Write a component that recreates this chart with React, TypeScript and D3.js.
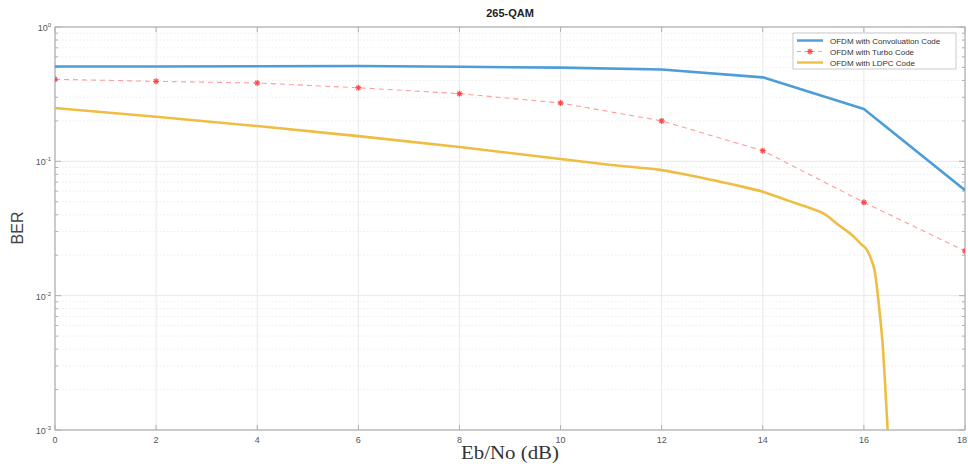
import React from "react";
import * as d3 from "d3";

// Eb/No sample points (dB)
const ebNo = [0, 2, 4, 6, 8, 10, 12, 14, 16, 18];
// OFDM with convolution code
const berConv = [0.508, 0.508, 0.51, 0.513, 0.506, 0.498, 0.483, 0.422, 0.245, 0.061];
// OFDM with turbo code
const berTurbo = [0.408, 0.394, 0.383, 0.353, 0.319, 0.272, 0.2, 0.12, 0.0495, 0.0215];
// OFDM with LDPC code (finer sampling near the waterfall)
const ebNoLdpc = [0, 2, 4, 6, 8, 10, 11, 12, 12.5, 13, 13.5, 14, 14.5, 15, 15.2, 15.5, 15.8, 15.95, 16.05, 16.15, 16.21, 16.3, 16.38, 16.42, 16.47];
const berLdpc = [0.249, 0.215, 0.183, 0.154, 0.128, 0.104, 0.094, 0.086, 0.0795, 0.0725, 0.066, 0.0594, 0.051, 0.044, 0.041, 0.0336, 0.0275, 0.0241, 0.0222, 0.0184, 0.0155, 0.0083, 0.0039, 0.0022, 0.001];

const xTicks = [0, 2, 4, 6, 8, 10, 12, 14, 16, 18];
const yDecades = [0, -1, -2, -3];
const legendLabels = ["OFDM with Convoluation Code", "OFDM with Turbo Code", "OFDM with LDPC Code"];

const W = 968;
const H = 467;
const M = { left: 55, right: 965, top: 27, bottom: 430 };

const BLUE = "#4d9dd6";
const RED_LINE = "#ff9c9c";
const RED_MARK = "#ff4545";
const YELLOW = "#efbd44";
const AXIS = "#b0b0b0";
const GRID = "#e8e8e8";
const TXT = "#555";

export default function App() {
  const x = d3.scaleLinear().domain([0, 18]).range([M.left, M.right]);
  const y = d3.scaleLog().domain([1e-3, 1]).range([M.bottom, M.top]);

  const line = d3
    .line<[number, number]>()
    .x((d) => x(d[0]))
    .y((d) => y(d[1]));
  const smoothLine = d3
    .line<[number, number]>()
    .x((d) => x(d[0]))
    .y((d) => y(d[1]))
    .curve(d3.curveMonotoneX);

  const convPts = ebNo.map((e, i) => [e, berConv[i]] as [number, number]);
  const turboPts = ebNo.map((e, i) => [e, berTurbo[i]] as [number, number]);
  const ldpcPts = ebNoLdpc.map((e, i) => [e, berLdpc[i]] as [number, number]);

  const minors: number[] = [];
  for (let d = -3; d < 0; d++) {
    for (let k = 2; k <= 9; k++) minors.push(k * Math.pow(10, d));
  }

  const font = "'Liberation Sans', Arial, sans-serif";

  const star = (cx: number, cy: number, key: string) => {
    const r = 3;
    return (
      <g key={key} stroke={RED_MARK} strokeWidth={1.2}>
        <line x1={cx - r} y1={cy} x2={cx + r} y2={cy} />
        <line x1={cx} y1={cy - r} x2={cx} y2={cy + r} />
        <line x1={cx - r * 0.7} y1={cy - r * 0.7} x2={cx + r * 0.7} y2={cy + r * 0.7} />
        <line x1={cx - r * 0.7} y1={cy + r * 0.7} x2={cx + r * 0.7} y2={cy - r * 0.7} />
      </g>
    );
  };

  const lgX = 793;
  const lgY = 33;
  const lgW = 163;
  const lgH = 36;
  const rows = [40.5, 51.5, 62.5];
  const lastTick = xTicks[xTicks.length - 1];

  return (
    <svg width={W} height={H} style={{ position: "absolute", left: 0, top: 0, background: "#fff" }}>
      <defs>
        <clipPath id="plotArea">
          <rect x={M.left} y={M.top} width={M.right - M.left} height={M.bottom - M.top} />
        </clipPath>
      </defs>
      <rect x={0} y={0} width={W} height={H} fill="#fff" />

      {/* minor grid */}
      {minors.map((v, i) => (
        <line key={"mg" + i} x1={M.left} x2={M.right} y1={y(v)} y2={y(v)} stroke={GRID} strokeWidth={0.8} strokeDasharray="1.5 2" />
      ))}
      {/* major grid */}
      {yDecades.map((d) => (
        <line key={"yg" + d} x1={M.left} x2={M.right} y1={y(Math.pow(10, d))} y2={y(Math.pow(10, d))} stroke={GRID} strokeWidth={1} />
      ))}
      {xTicks.map((t) => (
        <line key={"xg" + t} x1={x(t)} x2={x(t)} y1={M.top} y2={M.bottom} stroke={GRID} strokeWidth={1} />
      ))}

      {/* axes box */}
      <rect x={M.left} y={M.top} width={M.right - M.left} height={M.bottom - M.top} fill="none" stroke={AXIS} strokeWidth={1.2} />

      {/* x ticks */}
      {xTicks.map((t) => (
        <g key={"xt" + t}>
          <line x1={x(t)} x2={x(t)} y1={M.bottom} y2={M.bottom - 5} stroke={AXIS} />
          <line x1={x(t)} x2={x(t)} y1={M.top} y2={M.top + 5} stroke={AXIS} />
          <text
            x={t === lastTick ? W - 1 : x(t)}
            y={M.bottom + 13}
            textAnchor={t === lastTick ? "end" : "middle"}
            fontSize={9}
            fill={TXT}
            fontFamily={font}
          >
            {t}
          </text>
        </g>
      ))}

      {/* y ticks */}
      {minors.map((v, i) => (
        <g key={"ymt" + i}>
          <line x1={M.left} x2={M.left + 3} y1={y(v)} y2={y(v)} stroke={AXIS} />
          <line x1={M.right} x2={M.right - 3} y1={y(v)} y2={y(v)} stroke={AXIS} />
        </g>
      ))}
      {yDecades.map((d) => (
        <g key={"yt" + d}>
          <line x1={M.left} x2={M.left + 6} y1={y(Math.pow(10, d))} y2={y(Math.pow(10, d))} stroke={AXIS} />
          <line x1={M.right} x2={M.right - 6} y1={y(Math.pow(10, d))} y2={y(Math.pow(10, d))} stroke={AXIS} />
          <text x={M.left - 4} y={y(Math.pow(10, d)) + 4} textAnchor="end" fontSize={9} fill={TXT} fontFamily={font}>
            10
            <tspan fontSize={6} dy={-4}>
              {d}
            </tspan>
          </text>
        </g>
      ))}

      {/* series */}
      <g clipPath="url(#plotArea)">
        <path d={smoothLine(ldpcPts) || ""} fill="none" stroke={YELLOW} strokeWidth={2.6} strokeLinejoin="round" />
        <path d={line(turboPts) || ""} fill="none" stroke={RED_LINE} strokeWidth={1.1} strokeDasharray="5 4" />
        {turboPts.map((p, i) => star(x(p[0]), y(p[1]), "s" + i))}
        <path d={line(convPts) || ""} fill="none" stroke={BLUE} strokeWidth={2.6} strokeLinejoin="round" />
      </g>

      {/* title */}
      <text x={(M.left + M.right) / 2} y={17} textAnchor="middle" fontSize={11} fontWeight="bold" fill="#222" fontFamily={font}>
        265-QAM
      </text>

      {/* axis labels */}
      <text x={(M.left + M.right) / 2} y={459} textAnchor="middle" fontSize={18} fill="#333" fontFamily="'Liberation Serif', 'DejaVu Serif', serif" textLength={98} lengthAdjust="spacingAndGlyphs">
        Eb/No (dB)
      </text>
      <text transform={`translate(23, 228) rotate(-90)`} textAnchor="middle" fontSize={16} fill="#444" fontFamily={font}>
        BER
      </text>

      {/* legend */}
      <rect x={lgX} y={lgY} width={lgW} height={lgH} fill="#fff" stroke="#bbb" strokeWidth={0.8} />
      <line x1={lgX + 4} x2={lgX + 30} y1={rows[0]} y2={rows[0]} stroke={BLUE} strokeWidth={2.4} />
      <line x1={lgX + 4} x2={lgX + 30} y1={rows[1]} y2={rows[1]} stroke={RED_LINE} strokeWidth={1} strokeDasharray="4 3" />
      {star(lgX + 17, rows[1], "lgs")}
      <line x1={lgX + 4} x2={lgX + 30} y1={rows[2]} y2={rows[2]} stroke={YELLOW} strokeWidth={2.4} />
      {legendLabels.map((s, i) => (
        <text key={s} x={lgX + 37} y={rows[i] + 3} fontSize={8} fill="#333" fontFamily={font}>
          {s}
        </text>
      ))}
    </svg>
  );
}
